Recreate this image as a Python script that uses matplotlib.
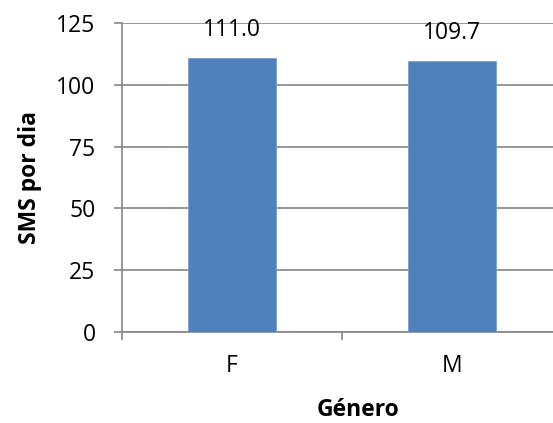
import matplotlib
matplotlib.use("Agg")
import matplotlib.pyplot as plt

categories = ["F", "M"]
values = [111.0, 109.7]
y_ticks = [0, 25, 50, 75, 100, 125]

plt.rcParams['font.family'] = ['Open Sans', 'DejaVu Sans']
FS = 16.5

fig = plt.figure(figsize=(5.53, 4.23), dpi=100)
left, right = 122 / 553, 562 / 553
bottom, top = (423 - 332) / 423, (423 - 23) / 423
ax = fig.add_axes([left, bottom, right - left, top - bottom])

grid_color = "#868686"
x = list(range(len(categories)))
ax.bar(x, values, width=0.4, color="#4F81BD", edgecolor="#7BA0CD", linewidth=0.6, zorder=3)

for xi, v in zip(x, values):
    ax.text(xi, v + 6.5, f"{v:.1f}", ha="center", va="bottom", fontsize=FS, color="#000000", zorder=4)

ax.set_xlim(-0.5, len(categories) - 0.5)
ax.set_ylim(0, 125)
ax.set_yticks(y_ticks)
ax.set_yticklabels([str(t) for t in y_ticks], fontsize=FS)
ax.yaxis.grid(True, color=grid_color, linewidth=1.2, zorder=0)
ax.set_axisbelow(True)

# Category labels sit between the boundary ticks
ax.set_xticks([i - 0.5 for i in range(len(categories) + 1)])
ax.set_xticklabels([])
ax.set_xticks(x, minor=True)
ax.set_xticklabels(categories, minor=True, fontsize=FS)
ax.tick_params(axis="x", which="minor", length=0, pad=16)
ax.tick_params(axis="x", which="major", length=6, width=1.2, color=grid_color)
ax.tick_params(axis="y", length=6, width=1.2, color=grid_color, pad=13)

for side in ["top", "right"]:
    ax.spines[side].set_visible(False)
for side in ["left", "bottom"]:
    ax.spines[side].set_color(grid_color)
    ax.spines[side].set_linewidth(1.2)

fig.text(30 / 553, 1 - 178 / 423, "SMS por dia", rotation=90, ha="center", va="center",
         fontsize=FS, fontweight="bold")
fig.text(358 / 553, 1 - 410 / 423, "Género", ha="center", va="center", fontsize=FS, fontweight="bold")

fig.savefig("out.png", dpi=100)
